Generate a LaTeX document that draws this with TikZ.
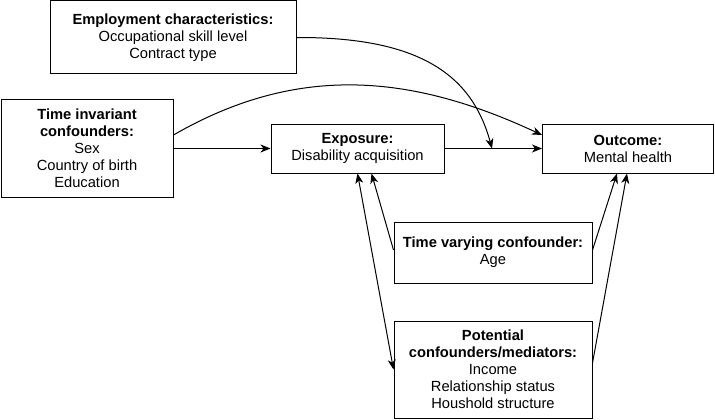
\documentclass[tikz,border=0pt]{standalone}
\usepackage{fontspec}
\setmainfont{Liberation Sans}
\usetikzlibrary{arrows.meta,positioning}

\begin{document}
\begin{tikzpicture}[x=1pt,y=-1pt,
        box/.style={draw, line width=1pt, align=center, inner sep=2pt,
            font=\fontsize{14.7}{17}\selectfont},
        arr/.style={line width=1pt, -{Stealth[length=10pt,width=8pt,inset=3pt]}},
        darr/.style={line width=1pt, {Stealth[length=10pt,width=8pt,inset=3pt]}-{Stealth[length=10pt,width=8pt,inset=3pt]}}]
        \useasboundingbox (0,0) rectangle (715,420);
        % boxes
        \node[box, minimum width=246pt, minimum height=73pt] (emp) at (173,37.5)
            {\textbf{Employment characteristics:}\\Occupational skill level\\Contract type};
        \node[box, minimum width=172pt, minimum height=98pt] (inv) at (87,148.5)
            {\textbf{Time invariant}\\\textbf{confounders:}\\Sex\\Country of birth\\Education};
        \node[box, minimum width=173pt, minimum height=49pt] (expo) at (357.5,148.5)
            {\textbf{Exposure:}\\Disability acquisition};
        \node[box, minimum width=171pt, minimum height=49pt] (out) at (628,148.5)
            {\textbf{Outcome:}\\Mental health};
        \node[box, minimum width=198pt, minimum height=61pt] (tv) at (493,252.5)
            {\textbf{Time varying confounder:}\\Age};
        \node[box, minimum width=198pt, minimum height=97pt] (pot) at (493,369.5)
            {\textbf{Potential}\\\textbf{confounders/mediators:}\\Income\\Relationship status\\Houshold structure};
        \coordinate (join) at (492,148.5);
        % arrows
        \draw[arr] (inv) -- (expo);
        \draw[arr] (expo) -- (out);
        \draw[arr] (emp.east) .. controls (420,37) and (472,75) .. (join);
        \draw[arr] ([yshift=13.5pt]inv.east) to[out=30,in=155] ([yshift=13.5pt]out.west);
        \draw[arr] ([yshift=2.5pt]tv.west) -- ([xshift=14pt]expo.south);
        \draw[darr] (pot.west) -- (expo.south);
        \draw[arr] ([yshift=2.5pt]tv.east) -- ([xshift=-11pt]out.south);
        \draw[arr] ([yshift=6.5pt]pot.east) -- ([xshift=-1pt]out.south);
\end{tikzpicture}
\end{document}
